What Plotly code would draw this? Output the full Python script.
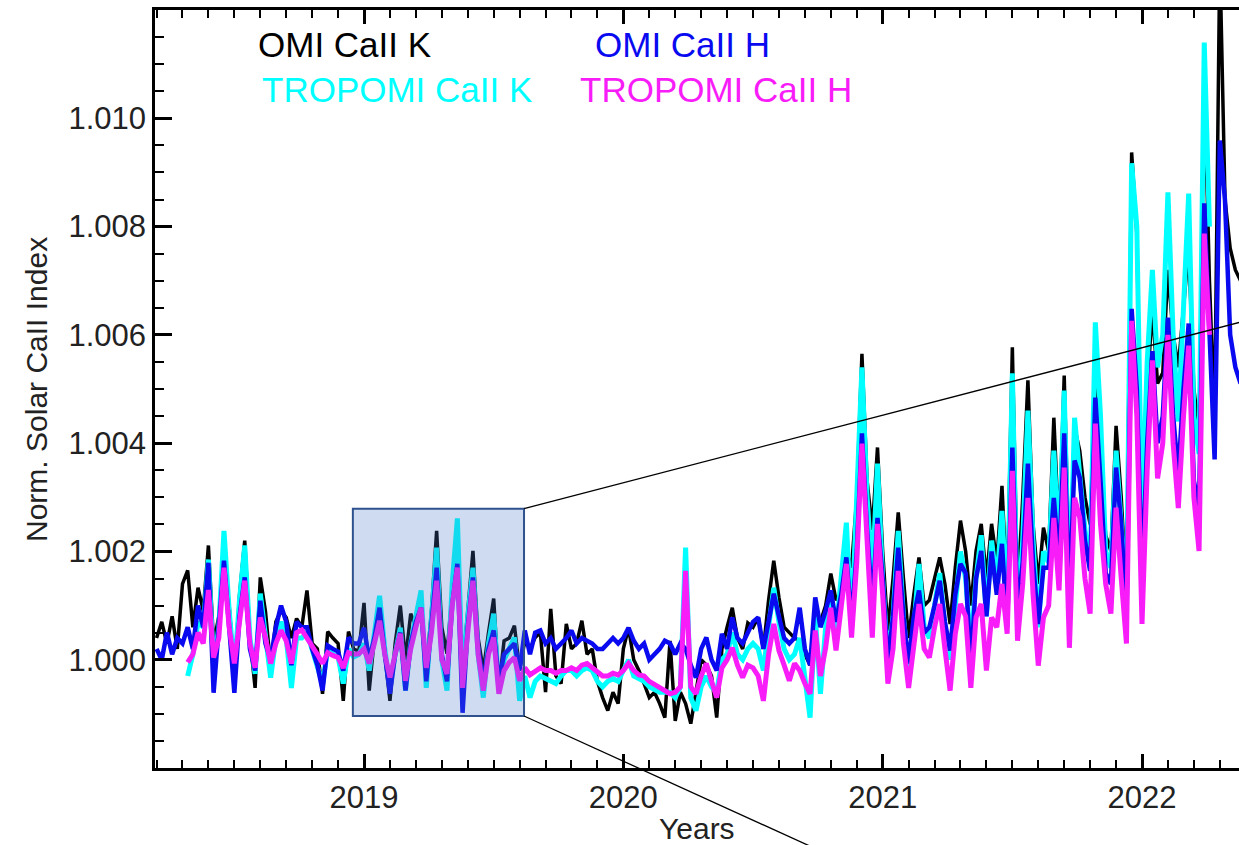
import numpy as np
import plotly.graph_objects as go

# Solar Ca II indices sampled every 0.02 yr.  Values are departures from
# unity in units of 1e-5, i.e. index = 1 + value * 1e-5.
omi_t0 = 2018.20
tropomi_t0 = 2018.32
step = 0.02

omi_k = [
    40, 70, 30, 80, 20, 140, 165, 60, 133, 90,
    211, 30, 80, 196, 100, -26, 120, 220, 40, -52,
    152, 89, -13, 70, 90, 78, 40, 76, 60, 128,
    30, 20, -63, 52, 40, 30, -76, 52, 20, 15,
    105, -57, 40, 80, 10, -76, 30, 100, 0, 85,
    60, 90, -20, 90, 238, 60, 11, 120, 240, -20,
    90, 201, 40, -20, 50, 113, -50, 35, 40, 63,
    -20, 35, 20, 41, 50, -60, 94, -30, -44, 66,
    20, 30, 72, 10, 20, -40, -70, -94, -60, -81,
    20, 59, 0, -20, -44, -70, -60, -81, -107, 35,
    -113, -60, -81, -118, -60, 0, -10, -30, -107, 20,
    60, 96, 40, 20, 68, 60, 78, 20, 110, 183,
    115, 60, 50, 40, 35, 10, -10, 90, 70, 100,
    159, 110, 120, 200, 170, 300, 565, 330, 240, 392,
    200, 54, 150, 272, 150, 40, 120, 189, 100, 110,
    150, 189, 140, 66, 170, 257, 200, 100, 201, 251,
    150, 251, 180, 321, 120, 577, 120, 299, 516, 250,
    140, 244, 200, 447, 230, 525, 152, 429, 386, 300,
    250, 510, 350, 230, 201, 432, 300, 120, 937, 787,
    250, 500, 650, 510, 530, 720, 600, 540, 650, 760,
    500, 420, 1076, 700, 447, 1300, 850, 760, 720, 700,
]
omi_h = [
    20, 0, 50, 10, 40, 30, 60, 20, 100, 60,
    179, -61, 60, 183, 60, -61, 80, 152, 20, -20,
    109, 30, 0, 60, 100, 70, -10, 70, 60, 60,
    20, -10, -57, 26, 20, 15, -20, 41, 30, 30,
    59, 0, 40, 96, 10, -63, 10, 50, -57, 30,
    70, 96, -40, 60, 170, 10, -40, 100, 177, -98,
    60, 152, 20, -40, 20, 54, -40, 10, 20, 30,
    -20, 54, 10, 50, 54, 30, 40, 20, 30, 40,
    54, 30, 40, 35, 30, 20, 20, 30, 40, 30,
    40, 59, 35, 20, 30, 0, 10, 20, 35, 30,
    10, 30, 20, -10, -33, 20, 41, 0, -20, 48,
    20, 78, 40, 30, 50, 70, 78, 20, 70, 122,
    80, 40, 30, 40, 96, 20, -10, 115, 60, 90,
    128, 70, 120, 189, 70, 200, 418, 238, 100, 262,
    150, -7, 80, 207, 80, -7, 80, 128, 50, 60,
    100, 146, 70, 17, 120, 177, 160, -15, 150, 201,
    80, 200, 120, 214, 60, 392, 91, 180, 362, 180,
    66, 170, 170, 299, 180, 418, 109, 368, 336, 220,
    164, 484, 330, 160, 140, 355, 250, 78, 648, 500,
    150, 400, 570, 400, 450, 632, 450, 342, 500, 621,
    330, 280, 843, 600, 370, 959, 848, 600, 540, 510,
]
tropomi_k = [
    -30, 10, 70, 60,
    185, -10, 60, 238, 90, -20, 110, 211, 40, -26,
    122, 40, -33, 40, 70, 40, -52, 40, 40, 50,
    20, -10, -44, 20, 10, 5, -44, 20, 5, 10,
    30, -20, 50, 118, 20, -52, 10, 59, -57, 30,
    80, 128, -52, 80, 207, 0, -57, 140, 261, -40,
    80, 170, 10, -70, 30, 85, -55, 0, 20, 41,
    -76, -30, -70, -40, -30, -35, -40, -44, -30, -20,
    -20, -30, -20, -15, -20, -40, -50, -40, -35, -40,
    -20, 0, -30, -35, -40, -50, -55, -60, -60, -60,
    -70, -50, 207, -70, -94, -50, -30, -50, -60, 0,
    10, 50, 10, 0, 20, 30, 20, -20, 60, 133,
    70, 20, 0, 10, 40, -30, -107, 80, -63, 60,
    120, 50, 160, 253, 60, 280, 540, 300, 150, 362,
    150, 0, 80, 238, 80, -20, 60, 177, 60, 40,
    100, 160, 60, 0, 100, 200, 150, 20, 150, 230,
    80, 220, 140, 275, 80, 529, 70, 220, 460, 220,
    60, 200, 180, 386, 200, 497, 100, 447, 340, 240,
    170, 623, 450, 200, 170, 386, 250, 90, 917, 800,
    250, 550, 720, 540, 600, 863, 600, 440, 650, 861,
    450, 380, 1140, 800,
]
tropomi_h = [
    -5, 10, 50, 30,
    129, 4, 40, 170, 60, -7, 70, 146, 30, -15,
    78, 41, -7, 30, 54, 35, -7, 50, 55, 41,
    25, 10, -7, 13, 8, 4, -15, 13, 10, 11,
    20, -7, 30, 72, 10, -33, 10, 48, -39, 20,
    60, 96, -15, 50, 146, 0, -26, 100, 170, -52,
    50, 146, 10, -57, 10, 41, -63, -20, -5, 4,
    -39, -15, -28, -20, -15, -20, -20, -25, -20, -20,
    -15, -20, -10, -7, -15, -25, -30, -30, -25, -28,
    -20, -7, -20, -28, -30, -40, -45, -50, -57, -63,
    -60, -50, 164, -50, -63, -30, -7, -40, -70, -15,
    0, 22, -10, -33, -10, -15, -30, -76, 10, 66,
    17, -10, -39, -7, -20, -44, -63, 54, -30, 22,
    96, 17, 90, 177, 41, 180, 399, 200, 41, 251,
    120, -44, 20, 164, 30, -52, 20, 103, 20, 4,
    60, 103, 20, -57, 48, 103, 80, -52, 78, 103,
    -20, 78, 60, 140, 48, 349, 35, 140, 299, 120,
    -11, 78, 100, 262, 128, 355, 22, 299, 262, 150,
    85, 436, 250, 140, 85, 281, 150, 30, 626, 450,
    66, 350, 553, 335, 400, 600, 400, 280, 450, 580,
    300, 201, 787, 600,
]

year_ticks = [2019, 2020, 2021, 2022]
index_ticks = [1.000, 1.002, 1.004, 1.006, 1.008, 1.010]
x_range = [2018.194, 2022.374]
y_range = [0.998, 1.012]

# highlighted interval and the two guide lines leaving its right corners
zoom_box_x = [2018.957, 2019.617]
zoom_box_y = [0.99896, 1.00279]
guide_upper_end = (2022.455, 1.00633)
guide_lower_end = (2020.847, 0.99628)


def times(t0, n):
    return t0 + step * np.arange(n)


def index(vals):
    return 1.0 + np.asarray(vals, dtype=float) * 1e-5


def to_paper(x, y):
    px = (x - x_range[0]) / (x_range[1] - x_range[0])
    py = (y - y_range[0]) / (y_range[1] - y_range[0])
    return px, py


FONT = "Liberation Sans, Arial, Helvetica, sans-serif"

series = [
    ("OMI CaII K", omi_t0, omi_k, "#000000", 3.5),
    ("TROPOMI CaII K", tropomi_t0, tropomi_k, "#00FFFF", 5),
    ("OMI CaII H", omi_t0, omi_h, "#0A0AF0", 4.5),
    ("TROPOMI CaII H", tropomi_t0, tropomi_h, "#F81CF8", 5),
]

fig = go.Figure()
for name, t0, vals, color, lw in series:
    fig.add_trace(go.Scatter(
        x=times(t0, len(vals)), y=index(vals), mode="lines", name=name,
        line=dict(color=color, width=lw), showlegend=False,
    ))

# shaded interval
fig.add_shape(type="rect", xref="x", yref="y",
              x0=zoom_box_x[0], x1=zoom_box_x[1],
              y0=zoom_box_y[0], y1=zoom_box_y[1],
              fillcolor="rgba(68,114,196,0.26)",
              line=dict(color="#2F528F", width=2), layer="above")

# guide lines (paper coordinates so they can run past the frame)
for (cy, end) in [(zoom_box_y[1], guide_upper_end), (zoom_box_y[0], guide_lower_end)]:
    x0p, y0p = to_paper(zoom_box_x[1], cy)
    x1p, y1p = to_paper(*end)
    fig.add_shape(type="line", xref="paper", yref="paper",
                  x0=x0p, y0=y0p, x1=x1p, y1=y1p,
                  line=dict(color="black", width=1.3), layer="above")

# coloured series labels
labels = [
    ("OMI CaII K", "#000000", 0.0932, 0.955),
    ("OMI CaII H", "#0A0AF0", 0.404, 0.955),
    ("TROPOMI CaII K", "#00FFFF", 0.0969, 0.8945),
    ("TROPOMI CaII H", "#F81CF8", 0.390, 0.8945),
]
for text, color, x, y in labels:
    fig.add_annotation(text=text, xref="paper", yref="paper", x=x, y=y,
                       xanchor="left", yanchor="middle", showarrow=False,
                       font=dict(family=FONT, size=35, color=color))

fig.add_annotation(text="Norm. Solar CaII Index", xref="paper", yref="paper",
                   x=-0.1098, y=0.5, textangle=-90, showarrow=False,
                   xanchor="center", yanchor="middle",
                   font=dict(family=FONT, size=30, color="#222"))
fig.add_annotation(text="Years", xref="paper", yref="paper",
                   x=0.5, y=-0.0792, showarrow=False,
                   xanchor="center", yanchor="middle",
                   font=dict(family=FONT, size=30, color="#222"))

axis_common = dict(showgrid=False, zeroline=False, showline=True,
                   linecolor="black", linewidth=2.5, ticks="inside",
                   tickcolor="black", tickwidth=2.5,
                   tickfont=dict(family=FONT, size=31, color="#222"))

fig.update_layout(
    width=1239, height=845,
    margin=dict(l=155, r=0, t=10, b=77),
    paper_bgcolor="white", plot_bgcolor="white",
    xaxis=dict(range=x_range, tickvals=year_ticks, ticklen=14,
               mirror="ticks",
               minor=dict(dtick=0.1, tick0=2019, ticks="inside", ticklen=8,
                          tickwidth=2, tickcolor="black"),
               **axis_common),
    yaxis=dict(range=y_range, tickvals=index_ticks, tickformat=".3f",
               ticklen=17, mirror=False,
               minor=dict(dtick=0.0005, tick0=1.0, ticks="inside", ticklen=9,
                          tickwidth=2, tickcolor="black"),
               **axis_common),
    yaxis2=dict(range=y_range, overlaying="y", side="right", tick0=1.0,
                dtick=0.002, ticks="inside", ticklen=17, tickwidth=2.5,
                tickcolor="black", showticklabels=False, showline=False,
                showgrid=False, zeroline=False,
                minor=dict(dtick=0.0005, tick0=1.0, ticks="inside", ticklen=9,
                           tickwidth=2, tickcolor="black")),
)

fig.write_html("out.html")
